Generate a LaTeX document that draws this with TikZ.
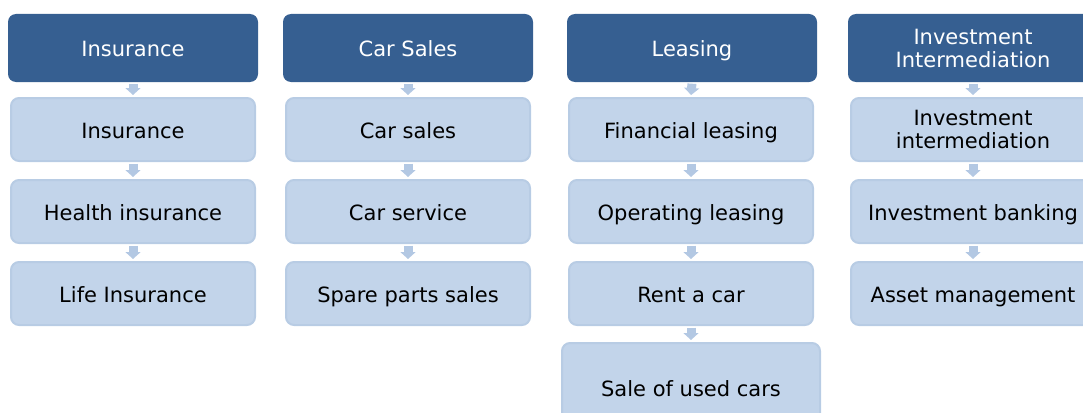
\documentclass[tikz,border=0pt]{standalone}
\usepackage{fontspec}
\setmainfont{DejaVu Sans}
\usetikzlibrary{arrows.meta}
\definecolor{headblue}{HTML}{365F91}
\definecolor{itemfill}{HTML}{C2D4EA}
\definecolor{itemline}{HTML}{B8CCE4}
\definecolor{flowblue}{HTML}{B3C8E3}
\tikzset{
    head/.style={fill=headblue, text=white, rounded corners=8pt, minimum width=250pt,
        minimum height=68pt, align=center, text height=19pt, text depth=2pt,
        font=\fontsize{21}{23}\selectfont},
    item/.style={fill=itemfill, draw=itemline, line width=2pt, rounded corners=8pt,
        minimum width=244pt, minimum height=63pt, align=center, text height=19pt,
        text depth=2pt, font=\fontsize{21}{23}\selectfont},
    twolines/.style={text height=, text depth=},
    flow/.style={draw=flowblue, line width=9pt, shorten <=1.5pt, shorten >=2pt,
        -{Triangle[width=15pt,length=7pt]}}
}
\begin{document}
\begin{tikzpicture}[x=1pt,y=-1pt]
        \useasboundingbox (0,0) rectangle (1083,412);
        \clip (0,0) rectangle (1083,412);
        % cabeceras de las cuatro columnas
        \node[head] (ins) at (133,48) {Insurance};
        \node[head] (car) at (408,48) {Car Sales};
        \node[head] (lea) at (692,48) {Leasing};
        \node[head, twolines] (inv) at (973,48) {Investment\\Intermediation};
        % primera columna
        \node[item] (ins1) at (133,129.5) {Insurance};
        \node[item] (ins2) at (133,211.5) {Health insurance};
        \node[item] (ins3) at (133,293.5) {Life Insurance};
        % segunda columna
        \node[item] (car1) at (408,129.5) {Car sales};
        \node[item] (car2) at (408,211.5) {Car service};
        \node[item] (car3) at (408,293.5) {Spare parts sales};
        % tercera columna, la ultima caja es mas grande
        \node[item] (lea1) at (691,129.5) {Financial leasing};
        \node[item] (lea2) at (691,211.5) {Operating leasing};
        \node[item] (lea3) at (691,293.5) {Rent a car};
        \node[item, minimum width=258pt, minimum height=90pt] (lea4) at (691,388) {Sale of used cars};
        % cuarta columna
        \node[item, twolines] (inv1) at (973,129.5) {Investment\\intermediation};
        \node[item] (inv2) at (973,211.5) {Investment banking};
        \node[item] (inv3) at (973,293.5) {Asset management};
        % flechas
        \foreach \a/\b in {ins/ins1, ins1/ins2, ins2/ins3, car/car1, car1/car2, car2/car3,
            lea/lea1, lea1/lea2, lea2/lea3, lea3/lea4, inv/inv1, inv1/inv2, inv2/inv3}
            \draw[flow] (\a.south) -- (\b.north);
    \end{tikzpicture}
\end{document}
